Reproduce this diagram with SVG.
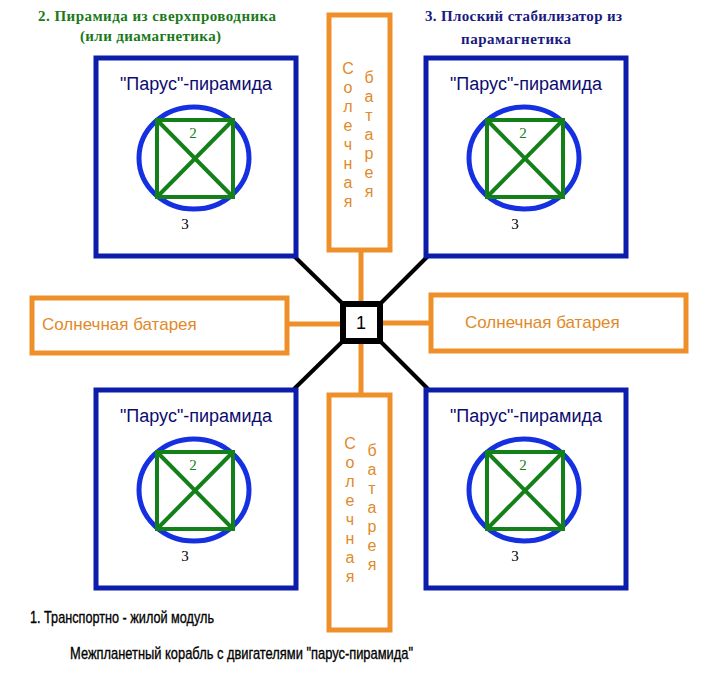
<svg xmlns="http://www.w3.org/2000/svg" width="709" height="677" viewBox="0 0 709 677">
<style>
.blue{fill:none;stroke:#0c1cab;stroke-width:5}
.circ{fill:none;stroke:#1530e0;stroke-width:5}
.grn{fill:none;stroke:#14801a;stroke-width:4}
.org{fill:#fff;stroke:#ef8f2a;stroke-width:5}
.conn{stroke:#ef8f2a;stroke-width:5}
.blk{stroke:#000;stroke-width:4}
.lbl{font-family:"Liberation Sans",Arial,sans-serif;font-size:18px;fill:#0c0c70}
.num{font-family:"Liberation Serif","Times New Roman",serif;font-size:15px}
.otx{font-family:"Liberation Sans",Arial,sans-serif;font-size:17px;fill:#e08a2a}
.vtx{font-family:"Liberation Sans",Arial,sans-serif;font-size:16px;fill:#e08a2a;text-anchor:middle}
.ttl{font-family:"Liberation Serif","Times New Roman",serif;font-size:15px;font-weight:bold}
.foot{font-family:"Liberation Sans",Arial,sans-serif;font-size:17px;fill:#000;stroke:#000;stroke-width:0.35}
</style>
<defs>
<g id="sail">
<rect class="blue" x="0" y="0" width="200" height="198"/>
<text class="lbl" x="100" y="32" text-anchor="middle">"Парус"-пирамида</text>
<ellipse class="circ" cx="98" cy="100" rx="55" ry="51"/>
<rect class="grn" x="61" y="62" width="76" height="77"/>
<line class="grn" x1="61" y1="62" x2="137" y2="139"/>
<line class="grn" x1="137" y1="62" x2="61" y2="139"/>
<text class="num" x="97" y="80" text-anchor="middle" fill="#14801a">2</text>
<text class="num" x="89" y="171" text-anchor="middle" fill="#000">3</text>
</g>
</defs>
<rect width="709" height="677" fill="#fff"/>
<g id="connectors">
<line class="blk" x1="343" y1="304" x2="294" y2="256"/>
<line class="blk" x1="380" y1="304" x2="428" y2="256"/>
<line class="blk" x1="343" y1="341" x2="294" y2="389"/>
<line class="blk" x1="380" y1="341" x2="428" y2="389"/>
<line class="conn" x1="361" y1="250" x2="361" y2="304"/>
<line class="conn" x1="361" y1="341" x2="361" y2="395"/>
<line class="conn" x1="287" y1="324" x2="343" y2="324"/>
<line class="conn" x1="380" y1="323" x2="430" y2="323"/>
</g>
<g id="sail-tl"><use href="#sail" x="96" y="58"/></g>
<g id="sail-tr"><use href="#sail" x="426" y="58"/></g>
<g id="sail-bl"><use href="#sail" x="96" y="390"/></g>
<g id="sail-br"><use href="#sail" x="426" y="390"/></g>
<g id="module">
<rect x="343" y="304" width="37" height="37" fill="#fff" stroke="#000" stroke-width="6"/>
<text x="361" y="329" text-anchor="middle" font-family="Liberation Sans,Arial,sans-serif" font-size="18" fill="#000">1</text>
</g>
<g id="solar-top">
<rect class="org" x="329" y="15" width="61" height="235"/>
<g class="vtx">
<text x="348" y="74">С</text><text x="348" y="93">о</text><text x="348" y="112">л</text><text x="348" y="131">е</text><text x="348" y="150">ч</text><text x="348" y="169">н</text><text x="348" y="188">а</text><text x="348" y="207">я</text>
<text x="369" y="83">б</text><text x="369" y="102">а</text><text x="369" y="121">т</text><text x="369" y="140">а</text><text x="369" y="159">р</text><text x="369" y="178">е</text><text x="369" y="197">я</text>
</g>
</g>
<g id="solar-bottom">
<rect class="org" x="329" y="395" width="61" height="235"/>
<g class="vtx">
<text x="350" y="449">С</text><text x="350" y="468">о</text><text x="350" y="487">л</text><text x="350" y="506">е</text><text x="350" y="525">ч</text><text x="350" y="544">н</text><text x="350" y="563">а</text><text x="350" y="582">я</text>
<text x="372" y="456">б</text><text x="372" y="475">а</text><text x="372" y="494">т</text><text x="372" y="513">а</text><text x="372" y="532">р</text><text x="372" y="551">е</text><text x="372" y="570">я</text>
</g>
</g>
<g id="solar-left">
<rect class="org" x="32" y="298" width="255" height="55"/>
<text class="otx" x="42" y="330">Солнечная батарея</text>
</g>
<g id="solar-right">
<rect class="org" x="431" y="295" width="255" height="56"/>
<text class="otx" x="465" y="328">Солнечная батарея</text>
</g>
<g id="titles">
<text class="ttl" x="38" y="21" fill="#1a7a1a" textLength="238">2. Пирамида из сверхпроводника</text>
<text class="ttl" x="80" y="41" fill="#1a7a1a" textLength="141">(или диамагнетика)</text>
<text class="ttl" x="425" y="21" fill="#1a1a80" textLength="197">3. Плоский стабилизатор из</text>
<text class="ttl" x="461" y="44" fill="#1a1a80" textLength="110">парамагнетика</text>
<text class="foot" x="30" y="623" textLength="184" lengthAdjust="spacingAndGlyphs">1. Транспортно - жилой модуль</text>
<text class="foot" x="70" y="659" textLength="343" lengthAdjust="spacingAndGlyphs">Межпланетный корабль с  двигателями "парус-пирамида"</text>
</g>
</svg>
